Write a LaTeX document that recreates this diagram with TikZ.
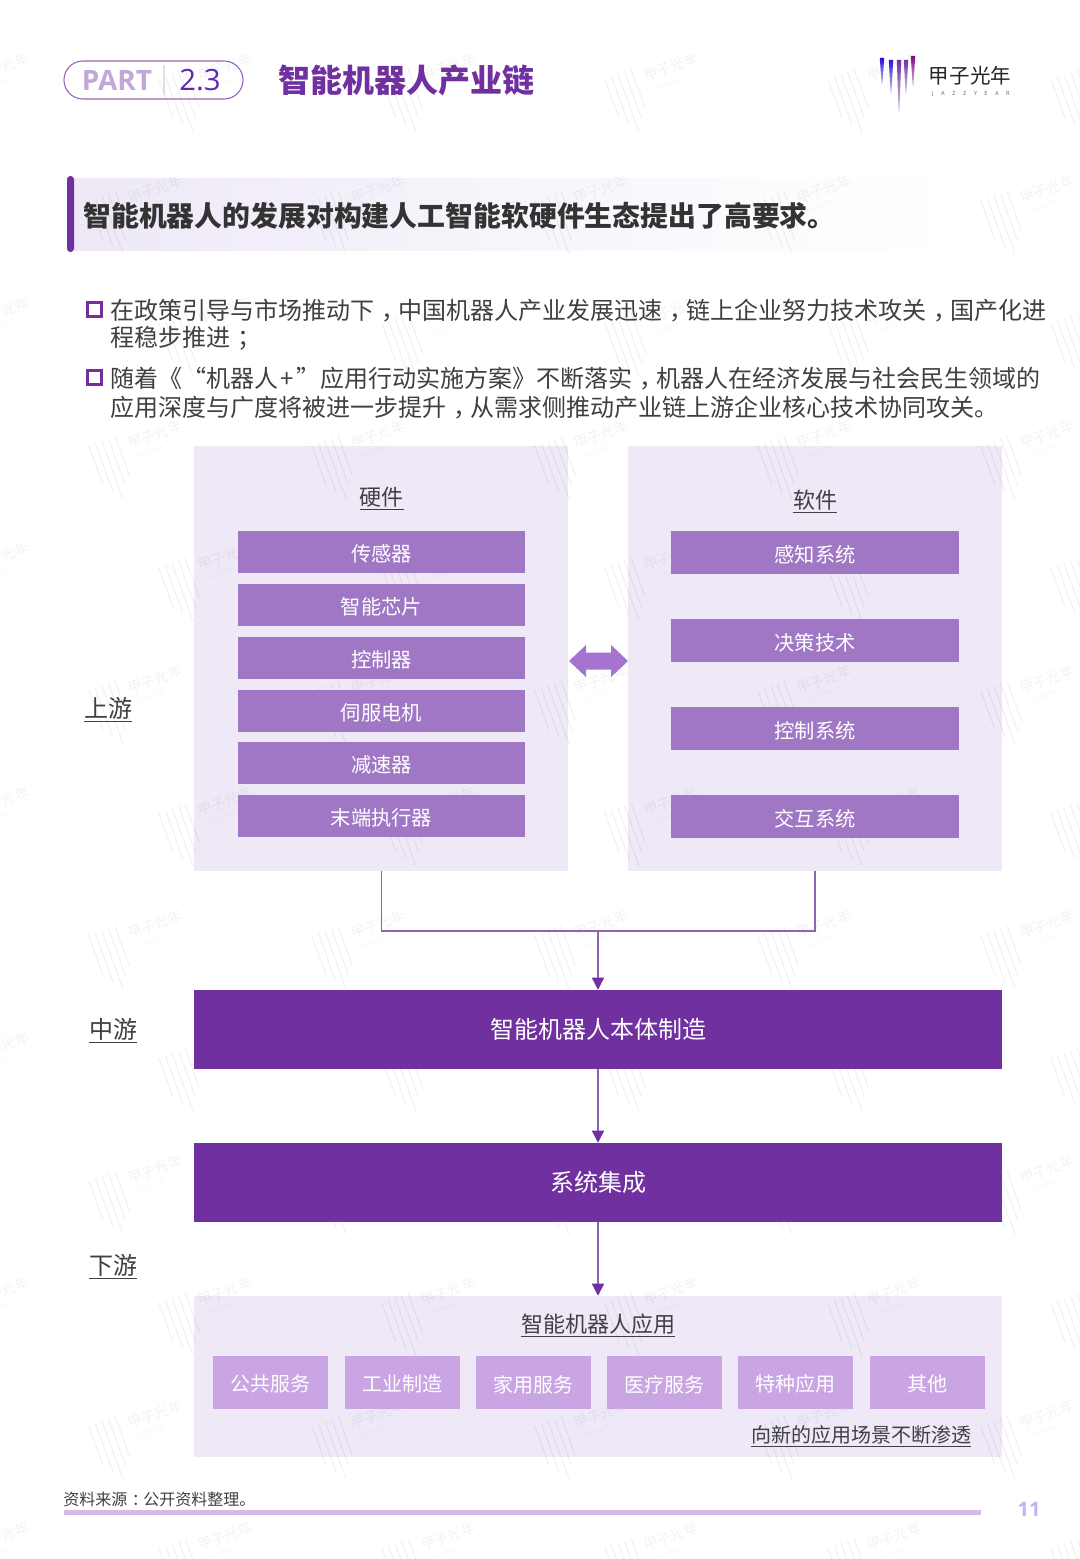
\documentclass[tikz,border=0pt]{standalone}
\usepackage{fontspec}
\usetikzlibrary{arrows.meta,calc}
\setmainfont{Noto Sans CJK SC}
\newfontfamily\latinf{Open Sans}
\definecolor{deep}{HTML}{7030A0}
\definecolor{midp}{HTML}{A077C4}
\definecolor{panel}{HTML}{EEE8F7}
\definecolor{appbox}{HTML}{C9A5E3}
\definecolor{txt}{HTML}{404040}
\definecolor{arrowp}{HTML}{A574D0}
\definecolor{linep}{HTML}{8C64B4}
\newcommand{\fs}[1]{\fontsize{#1}{#1}\selectfont}
% punctuation set in the middle of its cell
\newcommand{\midp}[1]{\hspace{.29em}#1\hspace{-.29em}}
\newcommand{\low}[1]{\raisebox{-1.4pt}[\height][\depth]{#1}}
% one tilted watermark: bars and wordmark
\newcommand{\wfull}[2]{%
  \begin{scope}[shift={(#1,#2)},rotate=20,opacity=.05,transform shape]
    \foreach \bx/\by in {-42/22,-35/32,-28/42,-21/30,-14/22}
      \draw[black,line width=.9pt] (\bx,-20) -- (\bx,\by);
    \node[black,inner sep=0,anchor=west] at (-4,-8) {\fs{10.5}甲子光年};
    \node[black,inner sep=0,anchor=west] at (0,7) {\fs{3.2}J A Z Z Y E A R};
  \end{scope}}
\tikzset{
  x=.75pt,y=-.75pt,
  panelbox/.style={fill=panel,draw=none},
  hwbox/.style={fill=midp,draw=none,text=white,inner sep=0,font=\fs{15.2}},
  bigbox/.style={fill=deep,draw=none,text=white,inner sep=0,font=\fs{18}},
  appitem/.style={fill=appbox,draw=none,text=white,inner sep=0,font=\fs{15}},
  label/.style={text=txt,inner sep=0,font=\fs{18}},
  sublabel/.style={text=txt,inner sep=0,font=\fs{16.5}},
  bodyline/.style={text=txt,inner sep=0,anchor=west,font=\fs{18}},
  bullet/.style={draw=deep,line width=2.6pt,fill=white,inner sep=0,minimum size=10.5pt},
  flow/.style={draw=linep,line width=1pt},
  flowtip/.style={flow,-{Triangle[length=9pt,width=9pt,color=deep,fill=deep]}},
}
\newcommand{\rectnode}[7]{% style,name,x1,y1,x2,y2,text
  \node[#1,minimum width={(#5-#3)*.75pt},minimum height={(#6-#4)*.75pt}] (#2) at ({(#3+#5)/2},{(#4+#6)/2}) {#7};}
\begin{document}
\begin{tikzpicture}
\useasboundingbox (0,0) rectangle (1080,1559);
\fill[white] (0,0) rectangle (1080,1559);

% banner and pale panels lie under the watermark
\shade[left color=panel,right color=white,middle color=panel!45!white] (74,179) rectangle (950,250);
\rectnode{panelbox}{hw}{194}{446}{568}{871}{}
\rectnode{panelbox}{sw}{628}{446}{1002}{871}{}
\rectnode{panelbox}{apps}{194}{1296}{1002}{1457}{}

% watermarks
\foreach \wy in {205,450,695,940,1185,1430}
  \foreach \wx in {135,358,581,804,1027}
    \wfull{\wx}{\wy};
\foreach \wy in {83,327,572,817,1062,1307,1552}
  \foreach \wx in {-18,205,428,651,874,1097}
    \wfull{\wx}{\wy};

% header
\draw[draw=deep!75,line width=.8pt,rounded corners=14.2pt] (64,61) rectangle (243,99);
\node[inner sep=0,text=deep!42,font={\latinf\bfseries\fs{21}}] (part) at (117,80) {PART};
\draw[draw=deep!18,line width=.8pt] (164,65) -- (164,95);
\node[inner sep=0,text=deep!85!blue,font={\latinf\fs{22}}] (num) at (200,80) {2.3};
\node[inner sep=0,anchor=west,text=deep,font={\fs{24}\bfseries}] (title) at (278,80) {智能机器人产业链};

% logo
\foreach \lx/\lt/\lb/\lc in {882/58/84/blue!70!deep,891/60/93/blue!60!deep,899/60/112/deep,906/60/94/deep,913/56/86/violet!80!deep}{
  \shade[top color=\lc,bottom color=\lc!25!white] (\lx-2.2,\lt) -- (\lx+2.2,\lt) -- (\lx+.4,\lb) -- (\lx-.4,\lb) -- cycle;
}
\node[inner sep=0,text=black!85,font=\fs{15.4}] (logocn) at (970,76) {甲子光年};
\node[inner sep=0,text=black!60,font={\latinf\fs{4.3}}] (logoen) at (971,94) {J\hspace{5.6pt}A\hspace{5.6pt}Z\hspace{5.6pt}Z\hspace{5.6pt}Y\hspace{5.6pt}E\hspace{5.6pt}A\hspace{5.6pt}R};

% banner bar and headline
\fill[deep,rounded corners=2.5pt] (67,176) rectangle (74,252);
\node[inner sep=0,anchor=west,text=black!80,font={\fs{20.9}\bfseries}] (headline) at (83,216) {智能机器人的发展对构建人工智能软硬件生态提出了高要求。};

% bullets
\node[bullet] (b1) at (94.5,309.5) {};
\node[bodyline] (l1) at (110,310.5) {在政策引导与市场推动下\midp{，}中国机器人产业发展迅速\midp{，}链上企业努力技术攻关\midp{，}国产化进};
\node[bodyline] (l2) at (110,338.5) {程稳步推进\midp{；}};
\node[bullet] (b2) at (94.5,377.5) {};
\node[bodyline] (l3) at (110,378.5) {随着《“机器人\hspace{1.5pt}+\hspace{2pt}”应用行动实施方案》不断落实\midp{，}机器人在经济发展与社会民生领域的};
\node[bodyline] (l4) at (110,407.5) {应用深度与广度将被进一步提升\midp{，}从需求侧推动产业链上游企业核心技术协同攻关。};

% upstream
\node[sublabel] (hwt) at (381.5,499) {\underline{硬件}};
\node[sublabel] (swt) at (815,501.5) {\underline{软件}};

\rectnode{hwbox}{h1}{238}{531}{525}{573}{\low{传感器}}
\rectnode{hwbox}{h2}{238}{584}{525}{626}{\low{智能芯片}}
\rectnode{hwbox}{h3}{238}{637}{525}{679}{\low{控制器}}
\rectnode{hwbox}{h4}{238}{690}{525}{732}{\low{伺服电机}}
\rectnode{hwbox}{h5}{238}{742}{525}{784}{\low{减速器}}
\rectnode{hwbox}{h6}{238}{795}{525}{837}{\low{末端执行器}}

\rectnode{hwbox}{s1}{671}{531}{959}{574}{\low{感知系统}}
\rectnode{hwbox}{s2}{671}{619}{959}{662}{\low{决策技术}}
\rectnode{hwbox}{s3}{671}{707}{959}{750}{\low{控制系统}}
\rectnode{hwbox}{s4}{671}{795}{959}{838}{\low{交互系统}}

% double arrow between hardware and software
\coordinate (bi) at (598,661);
\fill[arrowp] ($(bi)+(-29,0)$) -- ++(17,-16) -- ++(0,7.5) -- ++(25,0) -- ++(0,-7.5) -- ++(17,16)
  -- ++(-17,16) -- ++(0,-7.5) -- ++(-25,0) -- ++(0,7.5) -- cycle;

% stage labels
\node[label] (up) at (108,710) {\underline{上游}};
\node[label] (mid) at (113,1031) {\underline{中游}};
\node[label] (down) at (113,1267) {\underline{下游}};

% mid / downstream boxes
\rectnode{bigbox}{body}{194}{990}{1002}{1069}{智能机器人本体制造}
\rectnode{bigbox}{integ}{194}{1143}{1002}{1222}{系统集成}

% connectors
\coordinate (hwdrop) at (381.5,871);
\coordinate (swdrop) at (815,871);
\coordinate (joinl) at (381.5,931);
\coordinate (joinr) at (815,931);
\coordinate (joinm) at (598,931);
\draw[flow] (hwdrop) -- (joinl) -- (joinr) -- (swdrop);
\draw[flowtip] (joinm) -- (body.north);
\draw[flowtip] (body.south) -- (integ.north);
\draw[flowtip] (integ.south) -- (apps.north);

% applications
\node[sublabel] (appt) at (598,1325) {\underline{智能机器人应用}};
\rectnode{appitem}{a1}{213}{1356}{328}{1409}{\low{公共服务}}
\rectnode{appitem}{a2}{345}{1356}{460}{1409}{\low{工业制造}}
\rectnode{appitem}{a3}{476}{1356}{591}{1409}{\low{家用服务}}
\rectnode{appitem}{a4}{607}{1356}{722}{1409}{\low{医疗服务}}
\rectnode{appitem}{a5}{738}{1356}{853}{1409}{\low{特种应用}}
\rectnode{appitem}{a6}{870}{1356}{985}{1409}{\low{其他}}
\node[text=txt,inner sep=0,font=\fs{15}] (trend) at (861,1436) {\underline{向新的应用场景不断渗透}};

% footer
\node[inner sep=0,anchor=west,text=txt,font=\fs{12}] (src) at (63,1499.5) {资料来源\midp{：}公开资料整理。};
\fill[appbox!70!panel] (64,1510) rectangle (981,1514.5);
\node[inner sep=0,text=deep!25!blue!30!white,font={\latinf\fs{15}\bfseries}] (pg) at (1029,1509) {11};
\end{tikzpicture}
\end{document}
